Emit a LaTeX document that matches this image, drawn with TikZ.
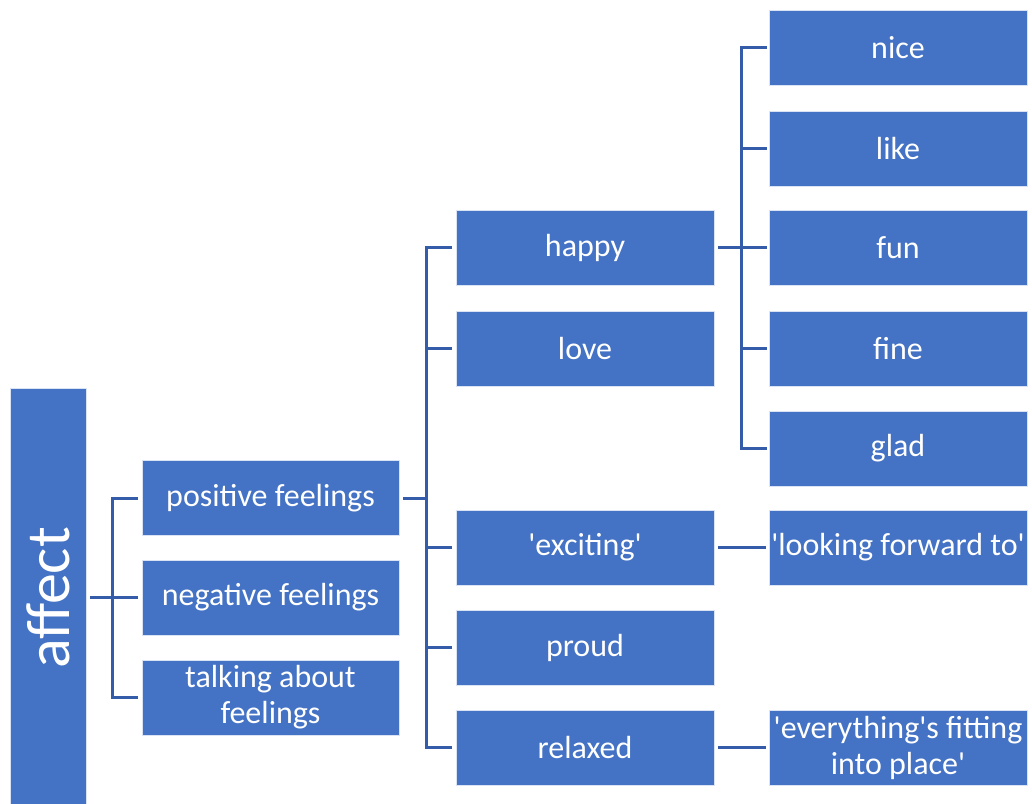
\documentclass[tikz,border=0pt]{standalone}
\usepackage{fontspec}
\newfontfamily\lab{Carlito}[Ligatures=TeXOff]
\definecolor{boxblue}{HTML}{4472C4}
\definecolor{linkblue}{RGB}{52,92,168}
\begin{document}
\begin{tikzpicture}[x=1pt,y=-1pt,
  box/.style={fill=boxblue,draw=white!80!boxblue,line width=0.6pt,text=white,inner sep=0pt,
    align=center,font=\lab\fontsize{32}{36}\selectfont},
  lone/.style={box,minimum width=257,minimum height=75},
  ltwo/.style={box,minimum width=258,minimum height=75},
  conn/.style={draw=linkblue,line width=3pt}]
\useasboundingbox (0,0) rectangle (1032,803);
% root
\node[box,minimum width=76,minimum height=420] (aff) at (48,598)
  {\rotatebox{90}{\lab\fontsize{62}{70}\selectfont affect}};
% first level
\node[lone] (pos) at (270.5,498) {positive feelings};
\node[lone] (neg) at (270.5,597.5) {negative feelings};
\node[lone] (tal) at (270.5,697.5) {talking about\\feelings};
% second level
\node[ltwo] (hap) at (585,247.5) {happy};
\node[ltwo] (lov) at (585,348.5) {love};
\node[ltwo] (exc) at (585,547.5) {'exciting'};
\node[ltwo] (pro) at (585,647.5) {proud};
\node[ltwo] (rel) at (585,747.5) {relaxed};
% third level
\node[ltwo] (nic) at (898,47.5) {nice};
\node[ltwo] (lik) at (898,148.5) {like};
\node[ltwo] (fun) at (898,247.5) {fun};
\node[ltwo] (fin) at (898,348.5) {fine};
\node[ltwo] (gla) at (898,448.5) {glad};
\node[ltwo] (loo) at (898,547.5) {'looking forward to'};
\node[ltwo] (eve) at (898,747.5) {'everything's fitting\\into place'};
% links from the root
\draw[conn] ([xshift=4]aff.east |- neg.west) -- ([xshift=-4]neg.west);
\draw[conn] ([xshift=-4]pos.west) -| ([xshift=-29]tal.west) -- ([xshift=-4]tal.west);
% links from positive feelings
\draw[conn] ([xshift=4]pos.east) -- ([xshift=-29]hap.west |- pos.east);
\draw[conn] ([xshift=-4]hap.west) -| ([xshift=-29]rel.west) -- ([xshift=-4]rel.west);
\foreach \n in {lov,exc,pro}
  \draw[conn] ([xshift=-29]\n.west) -- ([xshift=-4]\n.west);
% links from happy
\draw[conn] ([xshift=4]hap.east) -- ([xshift=-2]fun.west);
\draw[conn] ([xshift=-2]nic.west) -| ([xshift=-27]gla.west) -- ([xshift=-2]gla.west);
\foreach \n in {lik,fin}
  \draw[conn] ([xshift=-27]\n.west) -- ([xshift=-2]\n.west);
% single links
\draw[conn] ([xshift=4]exc.east) -- ([xshift=-3]loo.west);
\draw[conn] ([xshift=4]rel.east) -- ([xshift=-3]eve.west);
\end{tikzpicture}
\end{document}
